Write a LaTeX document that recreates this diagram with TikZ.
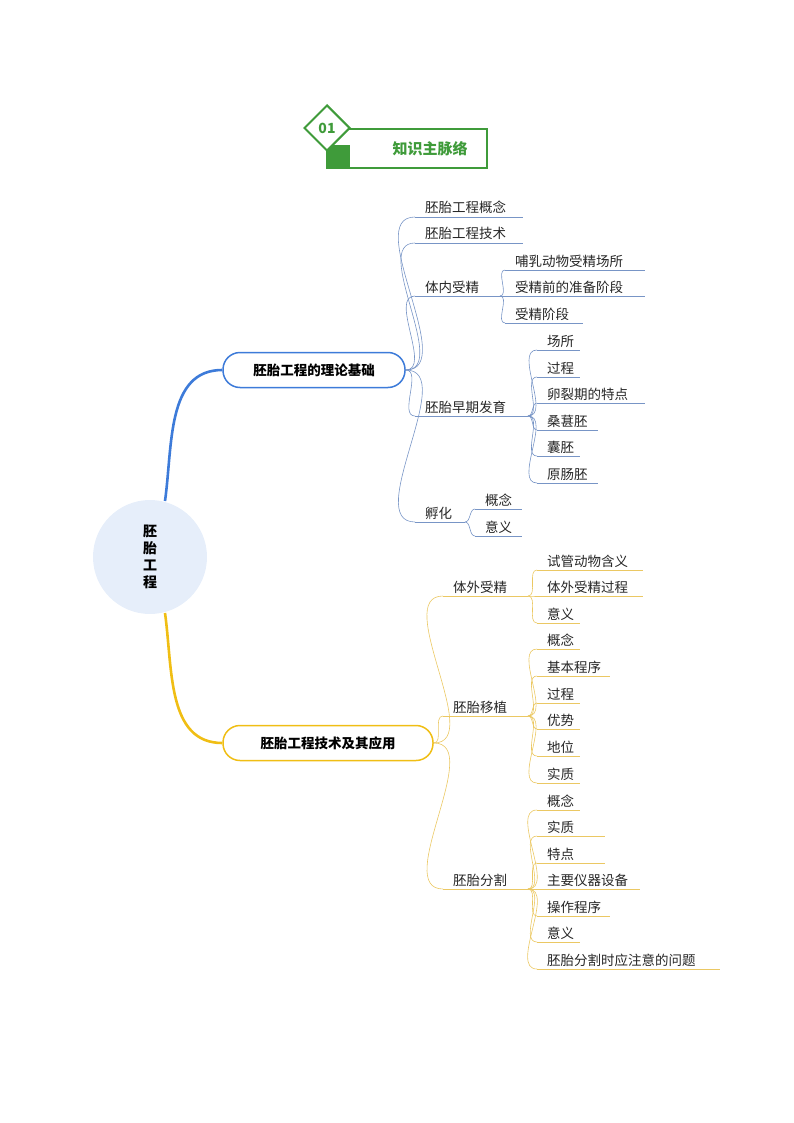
\documentclass[tikz,border=0pt]{standalone}
\usepackage{fontspec}
\usetikzlibrary{shapes.geometric}
\setmainfont{Noto Sans CJK SC}
\definecolor{hdgreen}{HTML}{3F9B3A}
\definecolor{mainblue}{HTML}{3D7BD9}
\definecolor{thinblue}{HTML}{7895C6}
\definecolor{mainyellow}{HTML}{F0BE14}
\definecolor{thinyellow}{HTML}{EBC863}
\definecolor{rootfill}{HTML}{E6EEFA}
\tikzset{
  leaftext/.style={inner sep=0pt, font=\fontsize{13.5}{14}\selectfont, text=black!85},
  blueline/.style={thinblue, line width=0.6pt},
  yellowline/.style={thinyellow, line width=0.6pt},
  mainbox/.style={rounded corners=17pt, line width=1.5pt, fill=white, minimum height=35pt,
    font=\fontsize{13.5}{14}\selectfont\bfseries, inner xsep=12pt}
}
% name, x start, x end, y of underline, text, line style
\newcommand{\leaf}[6]{%
  \coordinate (#1-s) at (#2,#4); \coordinate (#1-e) at (#3,#4);
  \node[leaftext, anchor=base west] (#1) at (#2+10,#4-4) {#5};
  \draw[#6] (#1-s) -- (#1-e);}
\newcommand{\link}[3]{\draw[#3] (#1) to[out=0, in=180, looseness=0.9] (#2);}
\begin{document}
\begin{tikzpicture}[x=1pt, y=-1pt]
\useasboundingbox (0,0) rectangle (794,1123);
% header
\draw[hdgreen, line width=1.6pt] (327,129) rectangle (487,168);
\fill[hdgreen] (327,145) rectangle (350,168);
\node[draw=hdgreen, line width=2pt, fill=white, diamond, inner sep=0pt,
  shape aspect=1, minimum width=46pt, minimum height=46pt] (num) at (327,128) {};
\node[text=hdgreen, font=\fontsize{14}{14}\selectfont\bfseries] at (num) {01};
\node[text=hdgreen, font=\fontsize{15}{15}\selectfont\bfseries] (title) at (430,149) {知识主脉络};
% root
\node[circle, fill=rootfill, minimum size=114pt, inner sep=0pt,
  font=\fontsize{14}{17}\selectfont\bfseries, align=center] (root) at (150,557) {胚\\胎\\工\\程};
\node[mainbox, draw=mainblue, minimum width=182pt] (theory) at (314,370) {胚胎工程的理论基础};
\node[mainbox, draw=mainyellow, minimum width=210pt] (tech) at (328,743) {胚胎工程技术及其应用};
\draw[mainblue, line width=2.6pt] (165,501) to[out=82, in=180] (theory.west);
\draw[mainyellow, line width=2.6pt] (165,613) to[out=-82, in=180] (tech.west);
% branch one
\leaf{gn}{415}{523}{217}{胚胎工程概念}{blueline}
\leaf{js}{415}{523}{243}{胚胎工程技术}{blueline}
\leaf{tn}{415}{500}{296}{体内受精}{blueline}
\leaf{zq}{415}{528}{416}{胚胎早期发育}{blueline}
\leaf{fh}{415}{465}{522}{孵化}{blueline}
\foreach \c in {gn,js,tn,zq,fh} {\link{theory.east}{\c-s}{blueline}}
\leaf{tn1}{505}{645}{270}{哺乳动物受精场所}{blueline}
\leaf{tn2}{505}{645}{296}{受精前的准备阶段}{blueline}
\leaf{tn3}{505}{583}{323}{受精阶段}{blueline}
\foreach \c in {tn1,tn2,tn3} {\link{tn-e}{\c-s}{blueline}}
\leaf{zq1}{537}{580}{350}{场所}{blueline}
\leaf{zq2}{537}{580}{377}{过程}{blueline}
\leaf{zq3}{537}{645}{403}{卵裂期的特点}{blueline}
\leaf{zq4}{537}{598}{430}{桑葚胚}{blueline}
\leaf{zq5}{537}{580}{456}{囊胚}{blueline}
\leaf{zq6}{537}{598}{483}{原肠胚}{blueline}
\foreach \c in {zq1,zq2,zq3,zq4,zq5,zq6} {\link{zq-e}{\c-s}{blueline}}
\leaf{fh1}{475}{522}{509}{概念}{blueline}
\leaf{fh2}{475}{522}{536}{意义}{blueline}
\foreach \c in {fh1,fh2} {\link{fh-e}{\c-s}{blueline}}
% branch two
\leaf{tw}{443}{528}{596}{体外受精}{yellowline}
\leaf{yz}{443}{528}{716}{胚胎移植}{yellowline}
\leaf{fg}{443}{528}{889}{胚胎分割}{yellowline}
\foreach \c in {tw,yz,fg} {\link{tech.east}{\c-s}{yellowline}}
\leaf{tw1}{537}{643}{570}{试管动物含义}{yellowline}
\leaf{tw2}{537}{643}{596}{体外受精过程}{yellowline}
\leaf{tw3}{537}{580}{623}{意义}{yellowline}
\foreach \c in {tw1,tw2,tw3} {\link{tw-e}{\c-s}{yellowline}}
\leaf{yz1}{537}{580}{649}{概念}{yellowline}
\leaf{yz2}{537}{610}{676}{基本程序}{yellowline}
\leaf{yz3}{537}{580}{703}{过程}{yellowline}
\leaf{yz4}{537}{580}{729}{优势}{yellowline}
\leaf{yz5}{537}{580}{756}{地位}{yellowline}
\leaf{yz6}{537}{580}{783}{实质}{yellowline}
\foreach \c in {yz1,yz2,yz3,yz4,yz5,yz6} {\link{yz-e}{\c-s}{yellowline}}
\leaf{fg1}{537}{580}{810}{概念}{yellowline}
\leaf{fg2}{537}{605}{836}{实质}{yellowline}
\leaf{fg3}{537}{605}{863}{特点}{yellowline}
\leaf{fg4}{537}{640}{889}{主要仪器设备}{yellowline}
\leaf{fg5}{537}{610}{916}{操作程序}{yellowline}
\leaf{fg6}{537}{580}{942}{意义}{yellowline}
\leaf{fg7}{537}{720}{969}{胚胎分割时应注意的问题}{yellowline}
\foreach \c in {fg1,fg2,fg3,fg4,fg5,fg6,fg7} {\link{fg-e}{\c-s}{yellowline}}
\end{tikzpicture}
\end{document}
